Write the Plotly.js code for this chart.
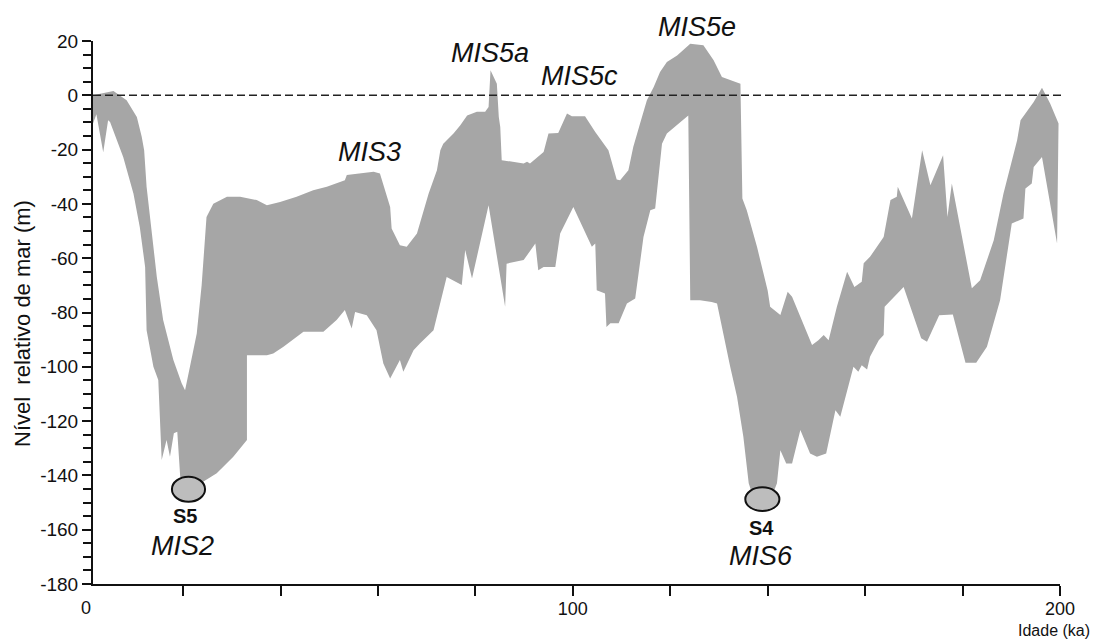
<!DOCTYPE html>
<html>
<head>
<meta charset="utf-8">
<script src="https://cdn.plot.ly/plotly-3.0.1.min.js"></script>
<style>html,body{margin:0;padding:0;background:#fff;}#chart{width:1103px;height:639px;}</style>
</head>
<body>
<div id="chart"></div>
<script>
// Upper envelope of the sea-level band (age in ka, level in m)
const upperAge = [1.5, 5.7, 8.4, 10.5, 11.5, 12.0, 12.5, 13.6, 14.6, 15.9, 16.6, 18.0, 19.7, 20.4, 21.4, 22.1, 22.8, 23.8, 24.5, 24.8, 26.2, 29.0, 31.7, 35.1, 37.2, 39.9, 43.3, 46.7, 49.5, 52.2, 53.2, 53.6, 56.3, 59.1, 60.4, 62.5, 62.8, 64.5, 65.9, 68.0, 70.4, 72.1, 72.8, 73.4, 75.5, 76.9, 78.3, 80.3, 82.0, 82.7, 83.1, 84.4, 84.8, 85.1, 85.4, 89.9, 90.6, 91.2, 94.0, 95.0, 97.0, 98.8, 99.8, 102.5, 104.6, 106.6, 107.3, 109.0, 109.7, 111.4, 112.4, 113.8, 115.2, 116.6, 117.9, 119.3, 121.4, 124.1, 126.8, 128.9, 130.6, 134.4, 134.8, 135.7, 137.8, 140.0, 140.5, 142.6, 144.1, 145.0, 149.1, 150.4, 151.5, 152.5, 154.2, 156.3, 157.8, 159.3, 159.7, 161.0, 163.8, 165.2, 166.5, 166.7, 169.6, 171.7, 173.4, 176.0, 176.9, 177.8, 181.9, 183.6, 186.4, 188.4, 191.2, 191.9, 194.6, 196.3, 198.0, 199.7];
const upperLevel = [0, 1.6, -1.8, -8.0, -15.3, -20.2, -33.7, -50.9, -66.9, -82.8, -87.7, -97.5, -106.1, -108.6, -100, -93.9, -87.7, -70, -50, -44.8, -39.9, -37.4, -37.4, -38.6, -40.5, -39.3, -37.4, -35.0, -33.7, -31.9, -31.3, -29.4, -28.8, -28.2, -28.8, -41.1, -49.1, -55.2, -55.8, -50.9, -36.2, -27.6, -20.2, -17.8, -14.1, -11.0, -7.4, -6.1, -6.1, -4.3, 9.2, 4.3, -8.0, -11.7, -23.9, -25.1, -24.5, -25.1, -20.9, -14.1, -13.9, -6.7, -7.7, -7.7, -13.5, -18.4, -20.2, -31.0, -31.3, -27.6, -19.0, -10.4, -1.8, 3.1, 8.6, 12.3, 14.7, 19.0, 18.4, 12.9, 6.7, 4.3, -38.0, -42.3, -55.8, -72, -77.9, -80.9, -72.4, -74.2, -92.0, -90.2, -88.3, -90.2, -77.9, -65.0, -70.6, -68.7, -61.9, -59.5, -52.2, -38.6, -37.4, -33.7, -45.4, -20.2, -33.1, -22.1, -44.8, -32.5, -71.1, -68.1, -53.4, -36.2, -16.6, -9.2, -2.5, 2.8, -3.1, -10.4];

// Lower envelope of the band
const lowerAge = [1.5, 2.2, 3.6, 4.6, 5.0, 7.7, 9.8, 11.1, 12.2, 12.5, 13.9, 14.9, 15.6, 16.6, 17.3, 18.1, 18.8, 19.4, 21.0, 23.0, 24.1, 26.9, 30.3, 33.1, 33.1, 37.2, 38.5, 40.6, 44.7, 48.8, 51.5, 53.2, 54.6, 55.3, 57.7, 59.7, 61.1, 62.5, 64.5, 65.2, 67.3, 68.6, 71.4, 72.8, 74.1, 77.2, 77.9, 79.3, 82.7, 86.1, 86.4, 89.9, 92.3, 92.9, 94.0, 96.4, 97.4, 100.1, 103.9, 104.6, 104.9, 106.6, 106.9, 107.7, 109.4, 111.1, 112.8, 114.5, 115.9, 116.9, 118.3, 119.3, 123.7, 124.1, 126.1, 128.5, 129.6, 132.3, 133.7, 135.0, 136.1, 137.2, 139.0, 140.8, 141.9, 142.6, 143.8, 145.0, 146.7, 148.7, 150.1, 152.0, 153.9, 154.9, 157.6, 158.6, 159.3, 160.4, 161.0, 162.8, 163.8, 164.0, 167.9, 171.5, 172.7, 175.2, 178.0, 180.6, 182.8, 185.0, 187.7, 190.1, 192.5, 192.9, 194.2, 194.6, 196.3, 199.4];
const lowerLevel = [-10.4, -7, -21, -9.2, -9.8, -22.7, -36.2, -48.5, -63.2, -86.5, -100, -104.9, -134.3, -127, -133.1, -124.5, -123.9, -140.5, -145, -144.5, -142.3, -139.2, -133.1, -127, -95.7, -95.7, -95.1, -92.6, -87.1, -87.1, -82.8, -79.1, -85.9, -79.8, -81, -86.5, -98.8, -104.3, -97.5, -101.8, -93.9, -91.4, -86.5, -76.7, -66.9, -69.9, -57.0, -67.5, -40.5, -77.9, -62, -60.7, -54.6, -64.4, -63.2, -63.2, -50.9, -41.1, -55.8, -54.6, -71.8, -73.0, -85.3, -84.0, -84.0, -76.7, -74.8, -52.2, -42.3, -41.7, -17.8, -14.1, -7.4, -75.5, -75.5, -76.1, -76.7, -100, -111, -125.8, -142.9, -149, -151, -148, -142.9, -130.7, -135.6, -135.6, -123.3, -131.9, -133.1, -131.9, -116, -118.4, -100, -101.8, -99.4, -101, -96.3, -90.2, -88.3, -77.9, -70.6, -89.5, -90.8, -81, -80.7, -98.5, -98.5, -92.6, -75.5, -47.2, -45.4, -34.3, -32.5, -26.4, -22.7, -54.6];

// Tick labels
const xTickVals = [20, 40, 60, 80, 100, 120, 140, 160, 180, 200];
const xTickText = ['', '', '', '', '100', '', '', '', '', '200'];
const yTickVals = [-180, -160, -140, -120, -100, -80, -60, -40, -20, 0, 20];
const yTickText = ['-180', '-160', '-140', '-120', '-100', '-80', '-60', '-40', '-20', '0', '20'];

// Stage labels
const stageLabels = ['MIS5e', 'MIS5a', 'MIS5c', 'MIS3', 'MIS2', 'MIS6'];
const sampleLabels = ['S5', 'S4'];

const FONT = 'Liberation Sans, Arial, Helvetica, sans-serif';

const polyX = upperAge.concat(lowerAge.slice().reverse());
const polyY = upperLevel.concat(lowerLevel.slice().reverse());

const band = {
  x: polyX, y: polyY, type: 'scatter', mode: 'lines',
  fill: 'toself', fillcolor: '#a6a6a6',
  line: {width: 0, color: '#a6a6a6'}, hoverinfo: 'skip', showlegend: false
};

// pixel helpers for label placement (plot area: x 93..1060, y 41..584)
const L = 93, R = 1060, T = 41, B = 584;
const px = v => (v - L) / (R - L);
const py = v => (B - v) / (B - T);

function lab(text, x, y, size, opts) {
  return Object.assign({
    text: text, xref: 'paper', yref: 'paper', x: px(x), y: py(y),
    xanchor: 'center', yanchor: 'middle', showarrow: false,
    font: {family: FONT, size: size, color: '#111'}
  }, opts || {});
}

const annotations = [
  lab('<i>' + stageLabels[0] + '</i>', 697, 27, 27),
  lab('<i>' + stageLabels[1] + '</i>', 490, 53, 27),
  lab('<i>' + stageLabels[2] + '</i>', 579, 76, 27),
  lab('<i>' + stageLabels[3] + '</i>', 369, 152, 27),
  lab('<i>' + stageLabels[4] + '</i>', 182, 546, 27),
  lab('<i>' + stageLabels[5] + '</i>', 761, 556, 27),
  lab('<b>' + sampleLabels[0] + '</b>', 185, 516, 20),
  lab('<b>' + sampleLabels[1] + '</b>', 761, 528, 20),
  lab('0', 86, 608, 18),
  lab('Idade (ka)', 1054, 630, 16, {borderpad: 0}),
  lab('Nível\u00a0 relativo de mar (m)', 22, 324, 22, {textangle: -90})
];

const shapes = [
  {type: 'line', xref: 'paper', yref: 'y', x0: 0, x1: px(1064), y0: 0, y1: 0,
   line: {color: '#222', width: 1.5, dash: '8px,4px'}, layer: 'above'},
  {type: 'circle', xref: 'x', yref: 'y', x0: 17.7, x1: 24.5, y0: -149.7, y1: -140.5,
   fillcolor: '#bdbdbd', line: {color: '#111', width: 2}, layer: 'above'},
  {type: 'circle', xref: 'x', yref: 'y', x0: 135.4, x1: 142.4, y0: -153.1, y1: -144.4,
   fillcolor: '#bdbdbd', line: {color: '#111', width: 2}, layer: 'above'}
];

const layout = {
  width: 1103, height: 639,
  margin: {l: L, r: 1103 - R, t: T, b: 639 - B, pad: 0},
  paper_bgcolor: '#fff', plot_bgcolor: '#fff',
  showlegend: false,
  font: {family: FONT, size: 19, color: '#111'},
  xaxis: {
    range: [1.5, 200], tickmode: 'array', tickvals: xTickVals, ticktext: xTickText,
    ticks: 'outside', ticklen: 10, tickwidth: 2, tickcolor: '#111',
    ticklabelstandoff: -3,
    showline: true, linewidth: 2, linecolor: '#111', showgrid: false, zeroline: false,
    tickfont: {family: FONT, size: 18, color: '#111'}, fixedrange: true
  },
  yaxis: {
    range: [-180, 20], tickmode: 'array', tickvals: yTickVals, ticktext: yTickText,
    ticks: 'outside', ticklen: 9, tickwidth: 2, tickcolor: '#111',
    minor: {tickmode: 'linear', dtick: 5, tick0: 0, ticks: 'outside', ticklen: 8, tickwidth: 2, tickcolor: '#111', showgrid: false},
    showline: true, linewidth: 2, linecolor: '#111', showgrid: false, zeroline: false,
    tickfont: {family: FONT, size: 19, color: '#111'}, fixedrange: true
  },
  annotations: annotations,
  shapes: shapes
};

Plotly.newPlot('chart', [band], layout, {staticPlot: true, displayModeBar: false});
</script>
</body>
</html>
